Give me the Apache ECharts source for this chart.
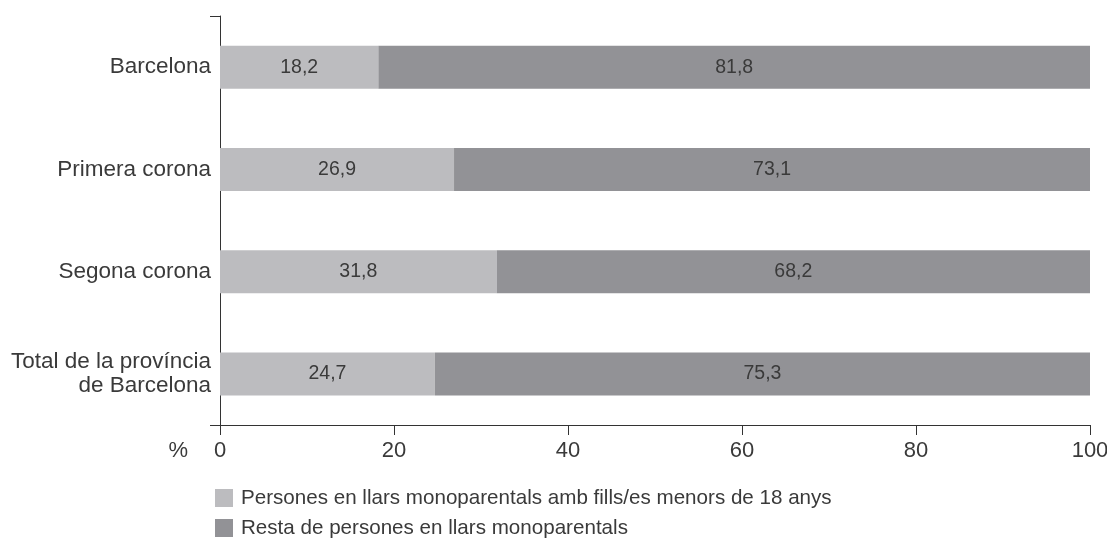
<!DOCTYPE html>
<html>
<head>
<meta charset="utf-8">
<script src="https://cdn.jsdelivr.net/npm/echarts@6/dist/echarts.min.js"></script>
<style>
  html, body { margin: 0; padding: 0; background: #fff; }
  #chart { width: 1107px; height: 545px; }
</style>
</head>
<body>
<div id="chart"></div>
<script>
var categories = ['Barcelona', 'Primera corona', 'Segona corona', 'Total de la província\nde Barcelona']
var menors = [18.2, 26.9, 31.8, 24.7]
var resta = [81.8, 73.1, 68.2, 75.3]
var seriesNames = ['Persones en llars monoparentals amb fills/es menors de 18 anys', 'Resta de persones en llars monoparentals']
var xTicks = [0, 20, 40, 60, 80, 100]

var myChart = echarts.init(document.getElementById('chart'))
var font = 'Liberation Sans'
var txt = '#3a3a3a'
// etiquetes amb coma decimal
function comma(p) {
    return String(p.value).replace('.', ',')
}
var option = {
    animation: false,
    textStyle: { fontFamily: font, color: txt },
    grid: { left: 220, right: 17, top: 16, bottom: 120, containLabel: false, outerBoundsMode: 'none' },
    legend: {
        orient: 'vertical',
        left: 210,
        top: 482,
        bottom: 0,
        itemWidth: 18,
        itemHeight: 18,
        itemGap: 8,
        icon: 'rect',
        textStyle: { fontSize: 20.6, lineHeight: 22, color: txt, fontFamily: font, padding: [0, 0, 0, 3] },
        data: seriesNames
    },
    xAxis: {
        type: 'value',
        min: xTicks[0],
        max: xTicks[xTicks.length - 1],
        interval: 20,
        name: '%',
        nameLocation: 'start',
        nameGap: 32,
        nameTextStyle: { fontSize: 22, color: txt, verticalAlign: 'top', padding: [15, 0, 0, 0] },
        splitLine: { show: false },
        axisLine: { show: true, lineStyle: { color: '#333', width: 1 } },
        axisTick: { show: true, length: 10, inside: false, lineStyle: { color: '#333' } },
        axisLabel: { fontSize: 22, color: txt, margin: 15 }
    },
    yAxis: [
        {
            type: 'category',
            inverse: true,
            data: categories,
            axisLine: { show: true, lineStyle: { color: '#333', width: 1 } },
            axisTick: { show: false },
            axisLabel: { fontSize: 22.5, color: txt, margin: 9, lineHeight: 24, align: 'right' }
        },
        {
            type: 'value',
            position: 'left',
            min: 0,
            max: 1,
            interval: 1,
            axisLine: { show: false },
            axisTick: { show: true, length: 10, lineStyle: { color: '#333' } },
            axisLabel: { show: false },
            splitLine: { show: false }
        }
    ],
    series: [
        {
            name: seriesNames[0],
            type: 'bar',
            stack: 'total',
            barWidth: 43,
            itemStyle: { color: '#bcbcbf' },
            label: { show: true, position: 'inside', color: txt, fontSize: 19.5, formatter: comma },
            data: menors
        },
        {
            name: seriesNames[1],
            type: 'bar',
            stack: 'total',
            barWidth: 43,
            itemStyle: { color: '#929296' },
            label: { show: true, position: 'inside', color: txt, fontSize: 19.5, formatter: comma },
            data: resta
        }
    ]
}
myChart.setOption(option)
</script>
</body>
</html>
